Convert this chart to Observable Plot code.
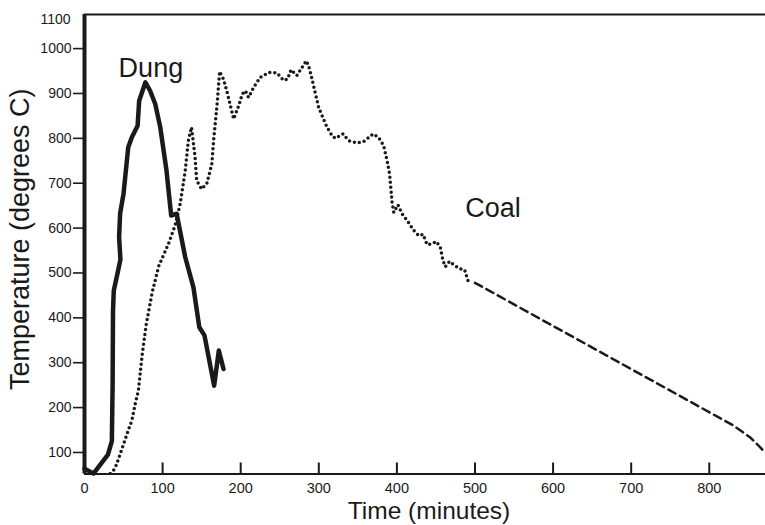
<!DOCTYPE html>
<html>
<head>
<meta charset="utf-8">
<script src="https://cdn.jsdelivr.net/npm/d3@7"></script>
<script src="https://cdn.jsdelivr.net/npm/@observablehq/plot@0.6"></script>
<style>
  html, body { margin: 0; padding: 0; background: #fff; }
  #chart svg { display: block; }
</style>
</head>
<body>
<div id="chart"></div>
<script>
// ---- Data ----
const xTicks = [0, 100, 200, 300, 400, 500, 600, 700, 800];
const yTicks = [100, 200, 300, 400, 500, 600, 700, 800, 900, 1000];
const yTopLabel = "1100";

const dungTime = [0, 11.5, 30, 35, 36, 36.5, 37.5, 43, 46, 44.3, 45.6, 50, 56, 60.5, 68, 70, 78, 84, 90.5, 97, 105, 111, 118, 129, 139.5, 147, 153.6, 166, 172, 178];
const dungTemp = [64, 53, 95, 125, 250, 416, 461, 505, 530, 580, 632, 677, 780, 802, 828, 884, 925, 906, 877, 825, 728, 628, 632, 535, 468, 379, 361, 249, 327, 286];

const coalTime = [33, 39, 46, 56, 60.6, 65, 69, 74, 79, 86.6, 95, 107.5, 116, 122.5, 129, 133, 137, 141.6, 143.6, 150, 156.6, 163, 165.5, 170, 173, 178, 182.6, 191, 197.5, 202, 206, 210, 216.7, 225, 236, 246.5, 255, 260, 264.5, 272, 278.5, 284, 287, 291.3, 299.8, 306, 310.5, 317, 321, 331, 338, 349, 357.5, 364, 369.5, 376.6, 383, 387.5, 390.7, 392.5, 393.8, 396, 401.3, 406.5, 413, 421.5, 428, 433.6, 438.6, 445, 450.5, 455.6, 459, 462, 467.5, 473.5, 481, 486.7, 491];
const coalTemp = [53, 64, 98, 149, 171, 209, 238, 320, 385, 456, 515, 565, 606, 654, 728, 795, 825, 758, 706, 687, 699, 743, 799, 880, 949, 932, 903, 843, 873, 899, 906, 891, 914, 936, 947, 946, 929, 932, 953, 940, 958, 973, 962, 932, 869, 843, 825, 806, 800, 810, 795, 790, 793, 802, 810, 802, 784, 750, 720, 684, 658, 635, 652, 632, 617, 595, 583, 586, 563, 565, 570, 557, 528, 514, 526, 517, 509, 507, 483];

const coalExtTime = [500, 831, 852, 865, 870];
const coalExtTemp = [478, 160, 134, 112, 102];

const seriesNames = ["Dung", "Coal"];
const labelTime = [85, 523];
const labelTemp = [955, 643];

const xLabel = "Time (minutes)";
const yLabel = "Temperature (degrees C)";

const xDomain = [0, 872];
const yDomain = [52, 1076];

// ---- Build tables ----
const dung = dungTime.map((t, i) => ({time: t, temp: dungTemp[i]}));
const coal = coalTime.map((t, i) => ({time: t, temp: coalTemp[i]}));
const coalExt = coalExtTime.map((t, i) => ({time: t, temp: coalExtTemp[i]}));
const labels = seriesNames.map((n, i) => ({name: n, time: labelTime[i], temp: labelTemp[i]}));

const W = 765, H = 525;
const mTop = 14, mBottom = 51.5, mLeft = 84, mRight = 0;
const frameH = H - mTop - mBottom;
const frameW = W - mLeft - mRight;
const FONT = "Liberation Sans, Arial, Helvetica, sans-serif";
const INK = "#1a1a1a";

const chart = Plot.plot({
  width: W,
  height: H,
  marginTop: mTop,
  marginBottom: mBottom,
  marginLeft: mLeft,
  marginRight: mRight,
  style: {fontFamily: FONT, color: INK, background: "#fff"},
  x: {domain: xDomain, axis: null},
  y: {domain: yDomain, axis: null},
  marks: [
    // frame lines
    Plot.ruleY([yDomain[1]], {stroke: INK, strokeWidth: 2}),
    Plot.ruleY([yDomain[0]], {stroke: INK, strokeWidth: 2}),
    Plot.ruleX([xDomain[0]], {stroke: INK, strokeWidth: 4}),
    // inward x ticks
    Plot.tickX(xTicks.filter(d => d > 0), {x: d => d, stroke: INK, strokeWidth: 2, insetTop: frameH - 11}),
    // outward y ticks
    Plot.tickY(yTicks, {y: d => d, stroke: INK, strokeWidth: 1.6, insetLeft: -11, insetRight: frameW}),
    // tick labels
    Plot.text(xTicks, {x: d => d, text: d => String(d), frameAnchor: "bottom", lineAnchor: "middle", dy: 14.5, fontSize: 14.5, fill: INK}),
    Plot.text(yTicks, {y: d => d, text: d => String(d), frameAnchor: "left", textAnchor: "end", lineAnchor: "middle", dx: -13, fontSize: 14, fill: INK}),
    Plot.text([yTopLabel], {frameAnchor: "top-left", text: d => d, textAnchor: "end", lineAnchor: "middle", dx: -14, dy: 5, fontSize: 14, fill: INK}),
    // series
    Plot.line(dung, {x: "time", y: "temp", stroke: INK, strokeWidth: 4.5, strokeLinejoin: "round", strokeLinecap: "round"}),
    Plot.line(coal, {x: "time", y: "temp", stroke: INK, strokeWidth: 3.5, strokeDasharray: "0 5", strokeLinecap: "round", strokeLinejoin: "round"}),
    Plot.line(coalExt, {x: "time", y: "temp", stroke: INK, strokeWidth: 2.5, strokeDasharray: "8 5"}),
    // series labels
    Plot.text(labels, {x: "time", y: "temp", text: "name", fontSize: 27, fill: INK}),
    // axis titles
    Plot.text([xLabel], {frameAnchor: "bottom", text: d => d, textAnchor: "middle", lineAnchor: "middle", dy: 37.5, dx: 4, fontSize: 24.5, fill: INK}),
    Plot.text([yLabel], {frameAnchor: "left", text: d => d, textAnchor: "middle", lineAnchor: "middle", rotate: -90, dx: -64, dy: -5, fontSize: 27, fill: INK})
  ]
});

document.getElementById("chart").appendChild(chart);
</script>
</body>
</html>
